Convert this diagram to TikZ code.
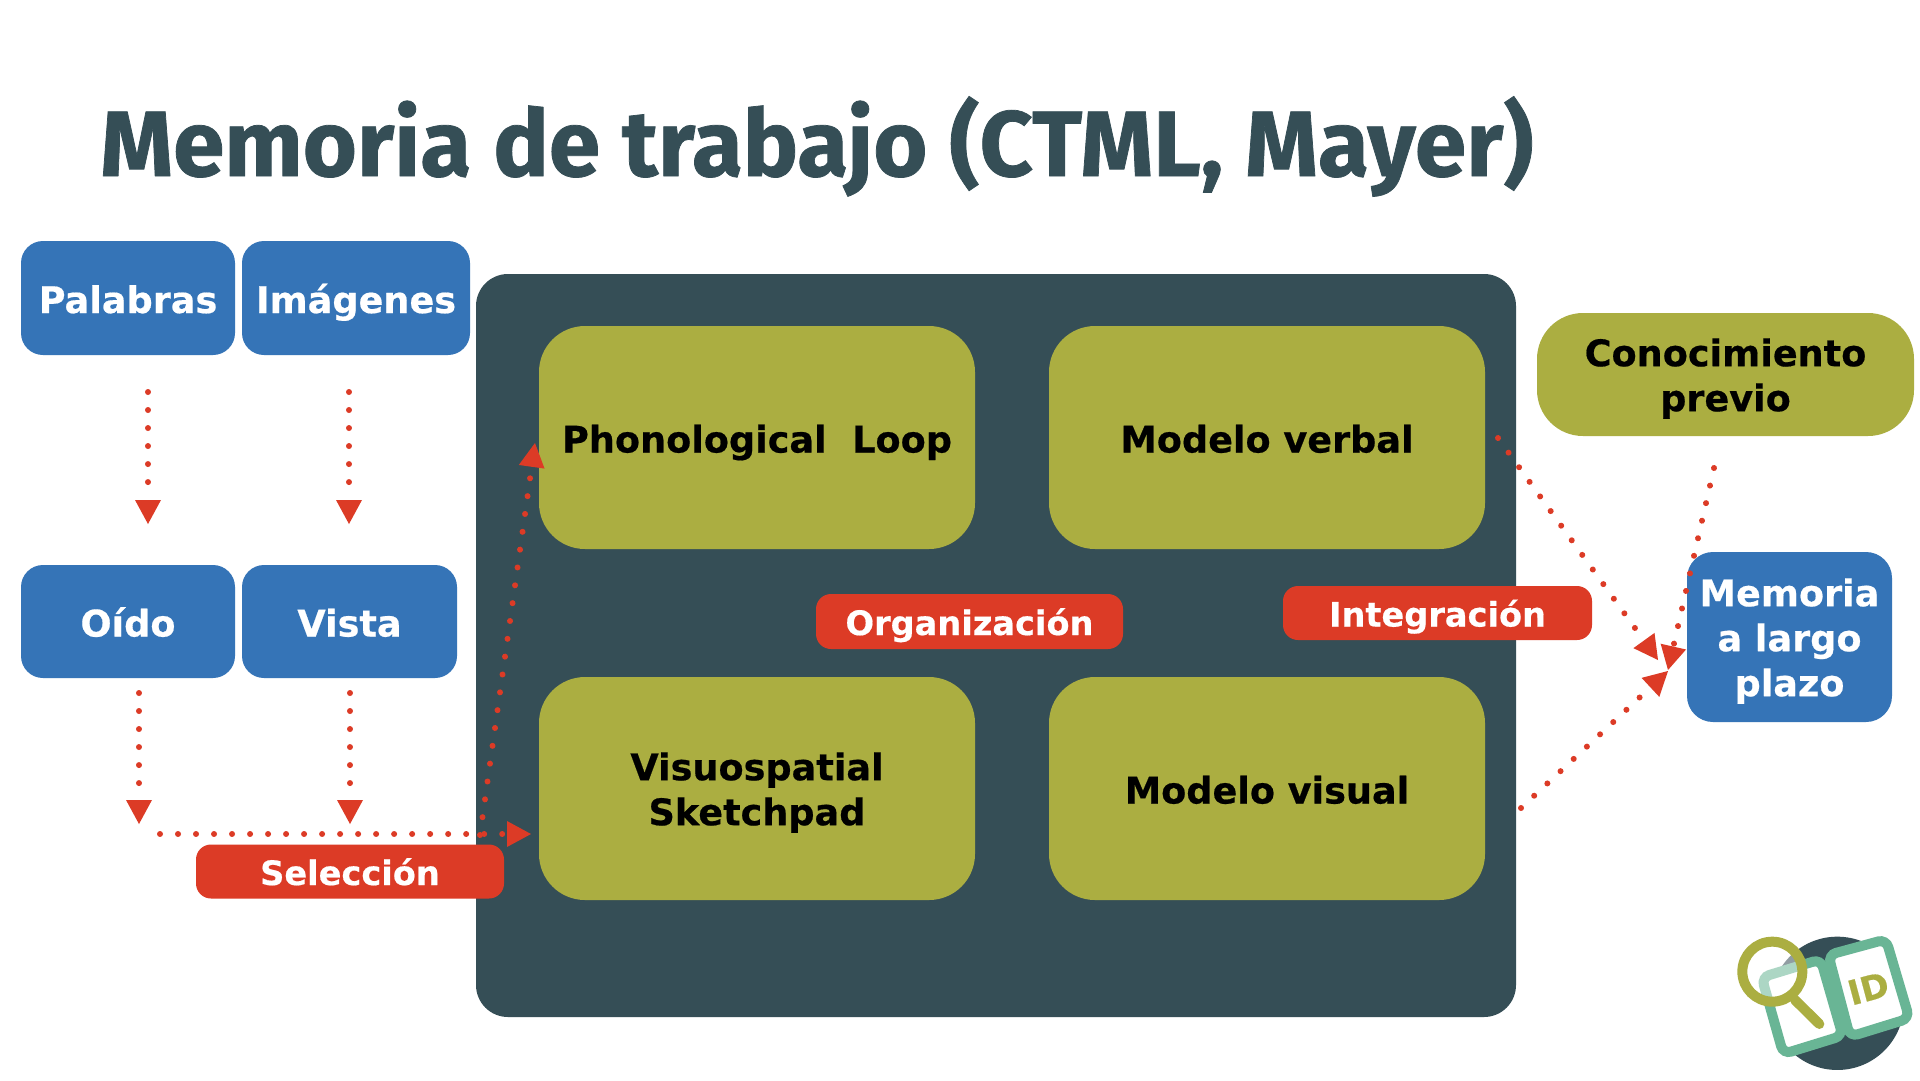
\documentclass[tikz,border=0pt]{standalone}
\usepackage{fontspec}
\setmainfont[BoldFeatures={FakeBold=0.5}]{DejaVu Sans}
\newfontfamily\titlefont[BoldFeatures={FakeBold=0.8}]{Fira Sans}
\usetikzlibrary{arrows.meta}
\definecolor{cblue}{HTML}{3574B7}
\definecolor{cdark}{HTML}{354E56}
\definecolor{colive}{HTML}{ABAE41}
\definecolor{cred}{HTML}{DC3B26}
\definecolor{cgreen}{HTML}{69B595}
\newcommand{\topline}{\rule{0pt}{36pt}}
\newcommand{\botline}{\rule[-2pt]{0pt}{2pt}}
\tikzset{
  boxbase/.style={inner sep=0pt,align=center,font=\fontsize{36.6}{45}\selectfont\bfseries},
  oneline/.style={text height=32pt,text depth=2pt},
  bluebox/.style={boxbase,fill=cblue,text=white,rounded corners=22pt},
  olivebox/.style={boxbase,fill=colive,text=black,rounded corners=46pt,minimum width=436pt,minimum height=223pt},
  redbox/.style={boxbase,fill=cred,text=white,rounded corners=15pt,font=\fontsize{33.6}{40}\selectfont\bfseries,text height=28pt,text depth=1pt},
  dotarrow/.style={draw=cred,line width=6pt,line cap=round,dash pattern=on 0.01pt off 18pt,
    -{Triangle[length=24pt,width=26pt,fill=cred,line width=0pt]}},
}
\begin{document}
\begin{tikzpicture}[x=1pt,y=-1pt]
\useasboundingbox (0,0) rectangle (1920,1080);
\fill[white] (0,0) rectangle (1920,1080);
\node[anchor=base west,inner sep=0pt,text=cdark,font=\fontsize{92.8}{100}\titlefont\bfseries] (title) at (100,176) {Memoria de trabajo (CTML, Mayer)};

\node[fill=cdark,rounded corners=32pt,minimum width=1040pt,minimum height=743pt] (wm) at (996,645.5) {};

\node[bluebox,oneline,minimum width=214pt,minimum height=114pt] (pal) at (128,298) {Palabras};
\node[bluebox,oneline,minimum width=228pt,minimum height=114pt] (ima) at (356,298) {Imágenes};
\node[bluebox,oneline,minimum width=214pt,minimum height=113pt] (oid) at (128,621.5) {Oído};
\node[bluebox,oneline,minimum width=215pt,minimum height=113pt] (vis) at (349.5,621.5) {Vista};

\node[olivebox,oneline] (pl) at (757,437.5) {Phonological\ \ Loop};
\node[olivebox,oneline] (mv) at (1267,437.5) {Modelo verbal};
\node[olivebox] (vs) at (757,788.5) {\topline Visuospatial\\Sketchpad\botline};
\node[olivebox,oneline] (mi) at (1267,788.5) {Modelo visual};

\node[redbox,minimum width=307pt,minimum height=55pt] (org) at (969.5,621.5) {Organización};
\node[redbox,minimum width=309pt,minimum height=54pt] (int) at (1437.5,613) {Integración};
\node[redbox,minimum width=308pt,minimum height=54pt] (sel) at (350,871.5) {Selección};

\node[olivebox,minimum width=377pt,minimum height=123pt] (con) at (1725.5,374.5) {\topline Conocimiento\\previo\botline};
\node[bluebox,rounded corners=26pt,minimum width=205pt,minimum height=170pt] (mem) at (1789.5,637) {\topline Memoria\\a largo\\plazo\botline};

% connector ends
\coordinate (a1) at (148,392); \coordinate (a2) at (148,524);
\coordinate (b1) at (349,392); \coordinate (b2) at (349,524);
\coordinate (c1) at (139,693); \coordinate (c2) at (139,824);
\coordinate (d1) at (350,693); \coordinate (d2) at (350,824);
\coordinate (e1) at (160,834); \coordinate (e2) at (531,834);
\coordinate (f1) at (480,835); \coordinate (f2) at (535,443);
\coordinate (g1) at (1498,438); \coordinate (g2) at (1658,660);
\coordinate (h1) at (1714,468); \coordinate (h2) at (1668,670);
\coordinate (i1) at (1521,808); \coordinate (i2) at (1668,671);

\draw[dotarrow] (a1) -- (a2);
\draw[dotarrow] (b1) -- (b2);
\draw[dotarrow] (c1) -- (c2);
\draw[dotarrow] (d1) -- (d2);
\draw[dotarrow] (e1) -- (e2);
\draw[dotarrow] (f1) -- (f2);
\draw[dotarrow] (g1) -- (g2);
\draw[dotarrow] (h1) -- (h2);
\draw[dotarrow] (i1) -- (i2);

% logo
\begin{scope}[shift={(1700,900)},x=0.3333pt,y=-0.3333pt]
\fill[cdark] (412,310) circle[radius=200];
\draw[cgreen,line width=10pt,fill=white,rounded corners=8pt] (185,232) -- (250,462) -- (428,407) -- (362,178) -- cycle;
\draw[cgreen,line width=10pt,fill=white,rounded corners=8pt] (385,165) -- (558,118) -- (628,355) -- (450,410) -- cycle;
\fill[white,fill opacity=0.45] (217,215) circle[radius=90];
\draw[colive,line width=10pt] (217,215) circle[radius=90];
\draw[colive,line width=10pt,line cap=round] (285,300) -- (358,372);
\node[rotate=15,text=colive,inner sep=0pt,font=\fontsize{34}{34}\selectfont\bfseries] (idt) at (505,265) {ID};
\end{scope}
\end{tikzpicture}
\end{document}
